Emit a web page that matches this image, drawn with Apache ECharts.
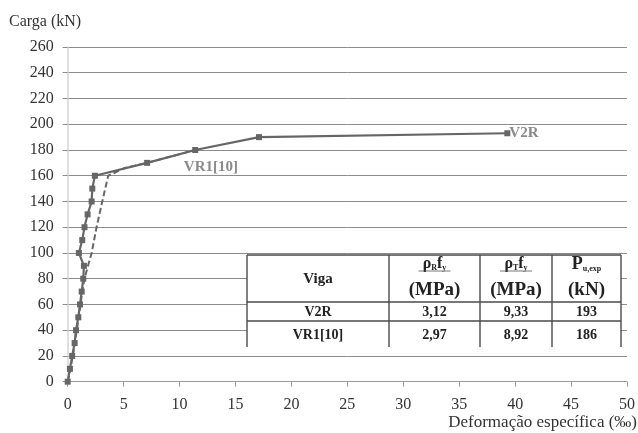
<!DOCTYPE html>
<html><head><meta charset="utf-8">
<script src="https://cdn.jsdelivr.net/npm/echarts@6/dist/echarts.min.js"></script>
<style>html,body{margin:0;padding:0;background:#fff}#c{width:638px;height:433px}</style>
</head><body><div id="c"></div><script>
// ---- data ----
const v2rStrain = [0,0.2,0.4,0.62,0.74,0.95,1.1,1.25,1.39,1.45,1.0,1.3,1.5,1.78,2.14,2.2,2.43,7.1,11.4,17.1,39.3];
const v2rLoad   = [0,10,20,30,40,50,60,70,80,90,100,110,120,130,140,150,160,170,180,190,193];
const vr1Strain = [0,0.25,0.45,0.65,0.8,1.0,1.15,1.3,1.5,1.75,2.14,2.58,3.09,3.62,5.1,7.1,11.4];
const vr1Load   = [0,10,20,30,40,50,60,70,80,88,100,120,140,160,166,170,180];
const seriesNames = ['V2R','VR1[10]'];
const vr1LabelAt = [12.8, 166.8];
const xMin = 0, xMax = 50, xStep = 5;
const yMin = 0, yMax = 260, yStep = 20;
const yTitle = 'Carga (kN)';
const xTitle = 'Deformação específica (‰)';
const tableRows = [['V2R','3,12','9,33','193'],['VR1[10]','2,97','8,92','186']];

// ---- chart ----
const FONT = 'Liberation Serif';
const LINE = '#666666';
const pair = (xs, ys) => xs.map((x, i) => [x, ys[i]]);

// table layout (pixels)
const tL = 247, tT = 255, tR = 621, tB = 347;
const cols = [247, 389, 480, 552, 621];
const rowLines = [302, 321];
const rowCenters = [312, 335];
const tCol = '#4a4a4a';
const g = [];
g.push({type:'rect', shape:{x:tL, y:tT, width:tR-tL, height:tB-tT}, style:{fill:'#fff'}, z:100});
g.push({type:'line', shape:{x1:tL, y1:tT, x2:tR, y2:tT}, style:{stroke:tCol, lineWidth:1.6}, z:101});
rowLines.forEach(y => g.push({type:'line', shape:{x1:tL, y1:y, x2:tR, y2:y}, style:{stroke:tCol, lineWidth:1.4}, z:101}));
cols.forEach(x => g.push({type:'line', shape:{x1:x, y1:tT, x2:x, y2:tB}, style:{stroke:tCol, lineWidth:1.4}, z:101}));
const txt = (x, y, text, rich, size) => ({type:'text', x:x, y:y, z:102,
  style:{text:text, rich:rich, fontFamily:FONT, fontWeight:'bold', fontSize:size||15, fill:'#222', align:'center', verticalAlign:'middle'}});
const sub = {b:{fontFamily:FONT, fontWeight:'bold', fontSize:16, fill:'#222'}, s:{fontFamily:FONT, fontWeight:'bold', fontSize:8, fill:'#222', verticalAlign:'bottom', padding:[6,0,0,0]}};
g.push(txt((cols[0]+cols[1])/2, 279, 'Viga', null, 15));
g.push(txt((cols[1]+cols[2])/2, 264, '{b|ρ}{s|R}{b|f}{s|y}', sub));
g.push(txt((cols[2]+cols[3])/2, 264, '{b|ρ}{s|T}{b|f}{s|y}', sub));
g.push(txt((cols[3]+cols[4])/2, 264, '{b|P}{s|u,exp}', {b:{fontFamily:FONT, fontWeight:'bold', fontSize:18, fill:'#222'}, s:sub.s}));
[[1,2],[2,3]].forEach(([a,b]) => g.push({type:'line', z:102, shape:{x1:(cols[a]+cols[b])/2-16, y1:271, x2:(cols[a]+cols[b])/2+16, y2:271}, style:{stroke:'#555', lineWidth:0.8}}));
g.push(txt((cols[1]+cols[2])/2, 290, '(MPa)', null, 19));
g.push(txt((cols[2]+cols[3])/2, 290, '(MPa)', null, 19));
g.push(txt((cols[3]+cols[4])/2, 290, '(kN)', null, 19));
tableRows.forEach((r, i) => r.forEach((c, j) => g.push(txt((cols[j]+cols[j+1])/2, rowCenters[i], c, null, 14))));
g.push({type:'text', left:9, top:14, style:{text:yTitle, fontFamily:FONT, fontSize:16, fill:'#333'}});
g.push({type:'text', right:1, top:414, style:{text:xTitle, fontFamily:FONT, fontSize:17, fill:'#333'}});

const chart = echarts.init(document.getElementById('c'), null, {renderer:'canvas'});
chart.setOption({
  animation:false,
  backgroundColor:'#fff',
  grid:{left:67.7, right:9, top:47, bottom:51.3, containLabel:false},
  xAxis:{type:'value', min:xMin, max:xMax, interval:xStep,
    axisLine:{show:true, lineStyle:{color:'#9a9a9a', width:1}},
    axisTick:{show:true, length:5, lineStyle:{color:'#9a9a9a'}},
    axisLabel:{margin:15, fontFamily:FONT, fontSize:16, color:'#333'},
    splitLine:{show:false}},
  yAxis:{type:'value', min:yMin, max:yMax, interval:yStep,
    axisLine:{show:true, lineStyle:{color:'#d4d4d4', width:1.5}},
    axisTick:{show:true, length:5, lineStyle:{color:'#8c8c8c'}},
    axisLabel:{margin:14, fontFamily:FONT, fontSize:16, color:'#333'},
    splitLine:{show:true, lineStyle:{color:'#8c8c8c', width:1}}},
  series:[
    {name:seriesNames[0], type:'line', data:pair(v2rStrain, v2rLoad), symbol:'rect', symbolSize:6,
     itemStyle:{color:LINE}, lineStyle:{color:LINE, width:2.2}, z:5,
     endLabel:{show:true, formatter:seriesNames[0], fontFamily:FONT, fontWeight:'bold', fontSize:15, color:'#8a8a8a', distance:2}},
    {name:seriesNames[1], type:'line', data:pair(vr1Strain, vr1Load), symbol:'none',
     lineStyle:{color:LINE, width:2, type:[6,3]}, z:4,
     markPoint:{symbol:'circle', symbolSize:0, data:[{coord:vr1LabelAt, value:seriesNames[1]}],
       label:{show:true, position:'inside', formatter:seriesNames[1], fontFamily:FONT, fontWeight:'bold', fontSize:15, color:'#8a8a8a'}}}
  ],
  graphic:g
});
</script></body></html>
